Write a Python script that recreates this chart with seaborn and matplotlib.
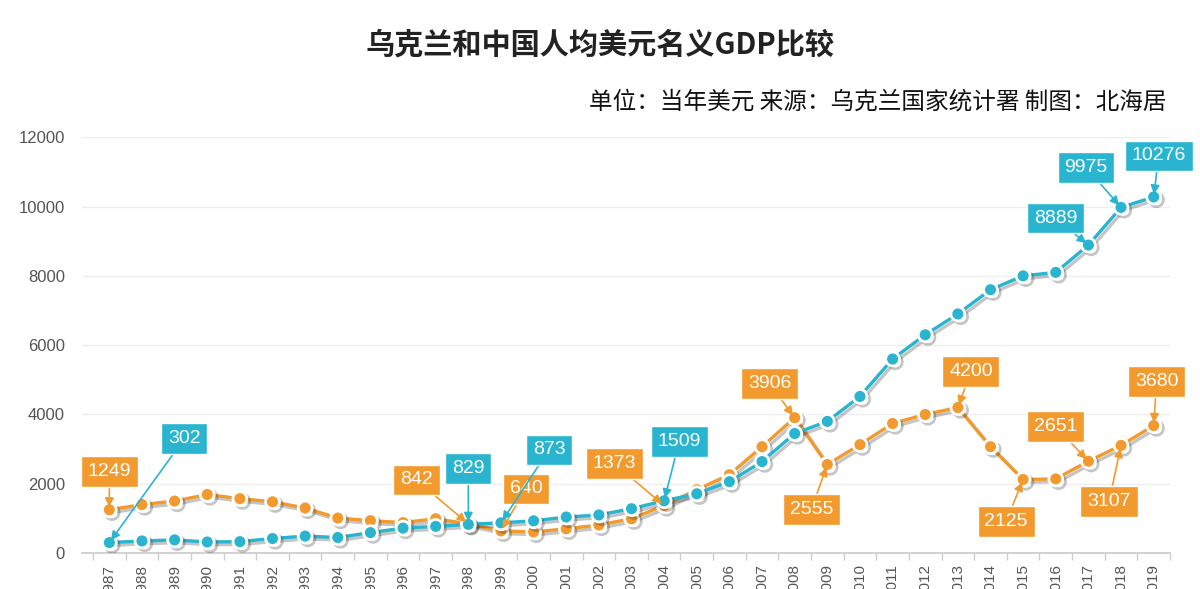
import numpy as np
import pandas as pd
import matplotlib
matplotlib.use('Agg')  # no display here
import matplotlib.pyplot as plt
import matplotlib.patheffects as pe
import seaborn as sns

# values (USD per capita, current prices)
years = list(range(1987, 2020))
ukraine = [1249, 1400, 1500, 1690, 1570, 1480, 1300, 1010, 935, 880, 990, 842, 640,
           610, 700, 810, 990, 1373, 1830, 2260, 3070, 3906, 2555, 3130, 3740, 4000,
           4200, 3070, 2125, 2140, 2651, 3107, 3680]
china = [302, 350, 380, 320, 330, 420, 490, 450, 590, 720, 770, 829, 873,
         930, 1040, 1100, 1280, 1509, 1710, 2060, 2640, 3450, 3800, 4520, 5600, 6300,
         6900, 7600, 8000, 8100, 8889, 9975, 10276]
yticks = [0, 2000, 4000, 6000, 8000, 10000, 12000]

title = '乌克兰和中国人均美元名义GDP比较'
subtitle = '单位：当年美元 来源：乌克兰国家统计署 制图：北海居'

# which points get a callout box, and where the box sits (offset in pixels)
ukr_callouts = {1987: (0, 38), 1998: (-52, 44), 1999: (25, 42), 2004: (-50, 42),
                2008: (-25, 34), 2009: (-16, -45), 2013: (13, 36), 2015: (-17, -42),
                2017: (-33, 35), 2018: (-12, -56), 2019: (3, 44)}
chn_callouts = {1987: (75, 104), 1998: (0, 56), 1999: (48, 73), 2004: (15, 59),
                2017: (-33, 27), 2018: (-35, 40), 2019: (5, 41)}

ORANGE = '#F29A2E'
BLUE = '#29B4D0'

df = pd.DataFrame({'year': years, 'Ukraine': ukraine, 'China': china})

sns.set_theme(style='white')
plt.rcParams['font.family'] = ['Noto Sans CJK SC', 'DejaVu Sans']
latin = ['Liberation Sans', 'DejaVu Sans']

fig = plt.figure(figsize=(12, 5.89), dpi=100)
ax = fig.add_axes([0.068, 0.061, 0.907, 0.706])

shadow = [pe.SimpleLineShadow(offset=(2, -2), alpha=0.25), pe.Normal()]
for col, c in [('Ukraine', ORANGE), ('China', BLUE)]:
    sns.lineplot(data=df, x='year', y=col, ax=ax, color=c, lw=2.4, marker='o',
                 markersize=10, markeredgecolor='white', markeredgewidth=2,
                 path_effects=shadow, zorder=3)

# callout boxes with arrows
def callouts(vals, spots, c):
    for yr, (dx, dy) in spots.items():
        v = vals[years.index(yr)]
        ax.annotate(str(v), xy=(yr, v), xytext=(dx, dy), textcoords='offset pixels',
                    ha='center', va='center', color='white', fontsize=14, family=latin,
                    bbox=dict(boxstyle='square,pad=0.35', fc=c, ec='white', lw=1),
                    arrowprops=dict(arrowstyle='-|>', color=c, lw=1.2,
                                    shrinkA=0, shrinkB=2, mutation_scale=13),
                    zorder=5)

callouts(ukraine, ukr_callouts, ORANGE)
callouts(china, chn_callouts, BLUE)

ax.set_xlim(1986.15, 2019.45)
ax.set_ylim(0, 12000)
ax.set_yticks(yticks)
ax.set_yticklabels([str(t) for t in yticks], color='#555555', fontsize=12, family=latin)
ax.set_xticks(years)
ax.set_xticklabels([str(y) for y in years], rotation=90, color='#555555', fontsize=11,
                   family=latin)
ax.set_xticks(np.arange(1986.5, 2020, 1), minor=True)
ax.tick_params(axis='x', which='major', length=0, pad=8)
ax.tick_params(axis='x', which='minor', length=5, color='#cccccc', bottom=True)
ax.tick_params(axis='y', length=0, pad=12)
ax.grid(axis='y', color='#eeeeee', lw=1)
ax.set_axisbelow(True)
ax.set_xlabel('')
ax.set_ylabel('')
for s in ['top', 'right', 'left']:
    ax.spines[s].set_visible(False)
ax.spines['bottom'].set_color('#cccccc')

fig.text(0.5, 0.925, title, ha='center', va='center', fontsize=21, weight='bold',
         color='#222222')
fig.text(0.972, 0.827, subtitle, ha='right', va='center', fontsize=17, weight='medium',
         color='#111111')

fig.savefig('out.png', dpi=100)
plt.close(fig)
